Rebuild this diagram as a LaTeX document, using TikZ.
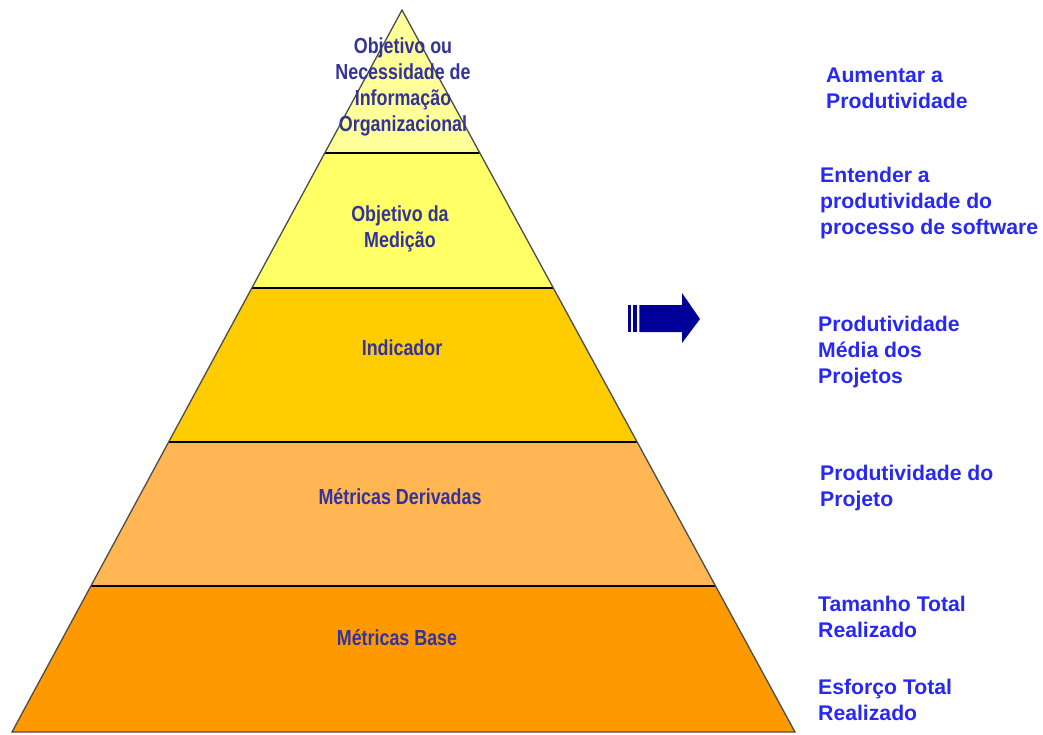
\documentclass[tikz,border=0pt]{standalone}
\usepackage{fontspec}
\setmainfont{Liberation Sans}
\newfontfamily\narrowfont{Liberation Sans}[FakeStretch=0.82]
\usetikzlibrary{calc}
\definecolor{band1}{HTML}{FFFF99}
\definecolor{band2}{HTML}{FFFF66}
\definecolor{band3}{HTML}{FFCC00}
\definecolor{band4}{HTML}{FFB653}
\definecolor{band5}{HTML}{FF9900}
\definecolor{lefttext}{HTML}{333399}
\definecolor{righttext}{HTML}{2828F5}
\definecolor{arrowblue}{HTML}{000099}
\tikzset{
  leftlabel/.style={inner sep=0pt, align=center, text=lefttext,
    font=\narrowfont\bfseries\fontsize{21.8}{26}\selectfont},
  rightlabel/.style={inner sep=0pt, anchor=north west, align=left, text=righttext,
    font=\bfseries\fontsize{21.2}{26}\selectfont},
  bandline/.style={draw=black, line width=1.3pt},
}
\begin{document}
\begin{tikzpicture}[x=1pt,y=-1pt]
\useasboundingbox (0,0) rectangle (1043,734);
% pyramid corner points
\coordinate (apex) at (402,10);
\coordinate (l5) at (12,732);  \coordinate (r5) at (795,732);
\coordinate (l1) at ($(apex)!0.19806!(l5)$); \coordinate (r1) at ($(apex)!0.19806!(r5)$);
\coordinate (l2) at ($(apex)!0.38504!(l5)$); \coordinate (r2) at ($(apex)!0.38504!(r5)$);
\coordinate (l3) at ($(apex)!0.59834!(l5)$); \coordinate (r3) at ($(apex)!0.59834!(r5)$);
\coordinate (l4) at ($(apex)!0.79778!(l5)$); \coordinate (r4) at ($(apex)!0.79778!(r5)$);
% bands
\fill[band1] (apex) -- (r1) -- (l1) -- cycle;
\fill[band2] (l1) -- (r1) -- (r2) -- (l2) -- cycle;
\fill[band3] (l2) -- (r2) -- (r3) -- (l3) -- cycle;
\fill[band4] (l3) -- (r3) -- (r4) -- (l4) -- cycle;
\fill[band5] (l4) -- (r4) -- (r5) -- (l5) -- cycle;
\draw[bandline] (l1) -- (r1);
\draw[bandline] (l2) -- (r2);
\draw[bandline] (l3) -- (r3);
\draw[bandline] (l4) -- (r4);
\draw[draw=black!70, line width=1.3pt, line join=miter] (apex) -- (r5) -- (l5) -- cycle;
% left labels
\node[leftlabel] (t1) at (403,87) {Objetivo ou\\Necessidade de\\Informação\\Organizacional};
\node[leftlabel] (t2) at (400,229) {Objetivo da\\Medição};
\node[leftlabel] (t3) at (402,348) {Indicador};
\node[leftlabel] (t4) at (400,497) {Métricas Derivadas};
\node[leftlabel] (t5) at (397,638) {Métricas Base};
% arrow
\fill[arrowblue] (628.3,305) rectangle (630.7,332);
\fill[arrowblue] (632.7,305) rectangle (636.7,332);
\fill[arrowblue] (639.3,305) -- (682,305) -- (682,293) -- (700,319) -- (682,343) -- (682,332) -- (639.3,332) -- cycle;
% right labels
\node[rightlabel] (g1) at (826,68) {Aumentar a\\Produtividade};
\node[rightlabel] (g2) at (820,167) {Entender a\\produtividade do\\processo de software};
\node[rightlabel] (g3) at (818,316) {Produtividade\\Média dos\\Projetos};
\node[rightlabel] (g4) at (820,465) {Produtividade do\\Projeto};
\node[rightlabel] (g5) at (818,596) {Tamanho Total\\Realizado};
\node[rightlabel] (g6) at (818,679) {Esforço Total\\Realizado};
\end{tikzpicture}
\end{document}
